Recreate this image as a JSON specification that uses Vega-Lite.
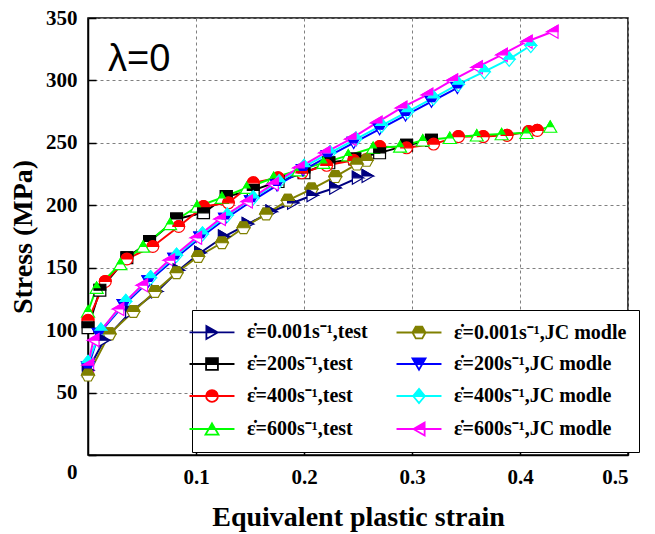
{
  "$schema": "https://vega.github.io/schema/vega-lite/v6.json",
  "width": 540,
  "height": 437,
  "autosize": {"type": "none"},
  "padding": {"left": 88, "top": 18, "right": 27, "bottom": 79},
  "background": "white",
  "config": {
    "view": {"stroke": "black", "strokeWidth": 1.5},
    "axis": {
      "labelFont": "Liberation Serif", "labelFontWeight": "bold", "labelFontSize": 21, "labelColor": "black",
      "titleFont": "Liberation Serif", "titleFontWeight": "bold", "titleFontSize": 28, "titleColor": "black",
      "domainColor": "black", "domainWidth": 1.5, "tickColor": "black", "tickWidth": 1.5, "tickSize": -8,
      "gridColor": "#808080", "gridDash": [3, 3], "gridWidth": 1
    }
  },
  "datasets": {
    "curves": [
      {"series": "test_0.001", "strain": 0, "stress": 68},
      {"series": "test_0.001", "strain": 0.015, "stress": 92},
      {"series": "test_0.001", "strain": 0.04, "stress": 115},
      {"series": "test_0.001", "strain": 0.064, "stress": 131},
      {"series": "test_0.001", "strain": 0.084, "stress": 148},
      {"series": "test_0.001", "strain": 0.104, "stress": 162},
      {"series": "test_0.001", "strain": 0.126, "stress": 175},
      {"series": "test_0.001", "strain": 0.148, "stress": 185},
      {"series": "test_0.001", "strain": 0.17, "stress": 195},
      {"series": "test_0.001", "strain": 0.19, "stress": 202},
      {"series": "test_0.001", "strain": 0.208, "stress": 208},
      {"series": "test_0.001", "strain": 0.229, "stress": 214},
      {"series": "test_0.001", "strain": 0.25, "stress": 222},
      {"series": "test_0.001", "strain": 0.259, "stress": 223.5},
      {"series": "test_200", "strain": 0, "stress": 102},
      {"series": "test_200", "strain": 0.011, "stress": 132},
      {"series": "test_200", "strain": 0.036, "stress": 158},
      {"series": "test_200", "strain": 0.057, "stress": 171},
      {"series": "test_200", "strain": 0.082, "stress": 189},
      {"series": "test_200", "strain": 0.107, "stress": 194},
      {"series": "test_200", "strain": 0.128, "stress": 207},
      {"series": "test_200", "strain": 0.153, "stress": 212},
      {"series": "test_200", "strain": 0.176, "stress": 219},
      {"series": "test_200", "strain": 0.2, "stress": 226},
      {"series": "test_200", "strain": 0.223, "stress": 234},
      {"series": "test_200", "strain": 0.247, "stress": 237},
      {"series": "test_200", "strain": 0.27, "stress": 242},
      {"series": "test_200", "strain": 0.295, "stress": 248},
      {"series": "test_200", "strain": 0.318, "stress": 252},
      {"series": "test_400", "strain": 0, "stress": 108},
      {"series": "test_400", "strain": 0.016, "stress": 139},
      {"series": "test_400", "strain": 0.036, "stress": 157},
      {"series": "test_400", "strain": 0.06, "stress": 167},
      {"series": "test_400", "strain": 0.084, "stress": 183},
      {"series": "test_400", "strain": 0.107, "stress": 199},
      {"series": "test_400", "strain": 0.13, "stress": 202},
      {"series": "test_400", "strain": 0.153, "stress": 218},
      {"series": "test_400", "strain": 0.176, "stress": 222},
      {"series": "test_400", "strain": 0.198, "stress": 226},
      {"series": "test_400", "strain": 0.221, "stress": 232},
      {"series": "test_400", "strain": 0.246, "stress": 236},
      {"series": "test_400", "strain": 0.27, "stress": 247},
      {"series": "test_400", "strain": 0.295, "stress": 246},
      {"series": "test_400", "strain": 0.32, "stress": 249},
      {"series": "test_400", "strain": 0.343, "stress": 255},
      {"series": "test_400", "strain": 0.366, "stress": 255},
      {"series": "test_400", "strain": 0.388, "stress": 256},
      {"series": "test_400", "strain": 0.408, "stress": 259},
      {"series": "test_400", "strain": 0.416, "stress": 260},
      {"series": "test_600", "strain": 0, "stress": 115},
      {"series": "test_600", "strain": 0.008, "stress": 134},
      {"series": "test_600", "strain": 0.03, "stress": 153},
      {"series": "test_600", "strain": 0.051, "stress": 167},
      {"series": "test_600", "strain": 0.076, "stress": 185},
      {"series": "test_600", "strain": 0.101, "stress": 199},
      {"series": "test_600", "strain": 0.124, "stress": 206},
      {"series": "test_600", "strain": 0.147, "stress": 214},
      {"series": "test_600", "strain": 0.172, "stress": 222},
      {"series": "test_600", "strain": 0.195, "stress": 228},
      {"series": "test_600", "strain": 0.218, "stress": 234},
      {"series": "test_600", "strain": 0.241, "stress": 240},
      {"series": "test_600", "strain": 0.264, "stress": 246},
      {"series": "test_600", "strain": 0.289, "stress": 247},
      {"series": "test_600", "strain": 0.31, "stress": 252},
      {"series": "test_600", "strain": 0.335, "stress": 254},
      {"series": "test_600", "strain": 0.36, "stress": 256},
      {"series": "test_600", "strain": 0.383, "stress": 257},
      {"series": "test_600", "strain": 0.406, "stress": 258},
      {"series": "test_600", "strain": 0.428, "stress": 263},
      {"series": "JC_0.001", "strain": 0, "stress": 64},
      {"series": "JC_0.001", "strain": 0.02, "stress": 97},
      {"series": "JC_0.001", "strain": 0.042, "stress": 115},
      {"series": "JC_0.001", "strain": 0.062, "stress": 131},
      {"series": "JC_0.001", "strain": 0.082, "stress": 146},
      {"series": "JC_0.001", "strain": 0.102, "stress": 159},
      {"series": "JC_0.001", "strain": 0.124, "stress": 170},
      {"series": "JC_0.001", "strain": 0.144, "stress": 182},
      {"series": "JC_0.001", "strain": 0.165, "stress": 193},
      {"series": "JC_0.001", "strain": 0.185, "stress": 204},
      {"series": "JC_0.001", "strain": 0.207, "stress": 213},
      {"series": "JC_0.001", "strain": 0.229, "stress": 223},
      {"series": "JC_0.001", "strain": 0.249, "stress": 233},
      {"series": "JC_0.001", "strain": 0.258, "stress": 236},
      {"series": "JC_200", "strain": 0, "stress": 70},
      {"series": "JC_200", "strain": 0.01, "stress": 97},
      {"series": "JC_200", "strain": 0.033, "stress": 120},
      {"series": "JC_200", "strain": 0.056, "stress": 139},
      {"series": "JC_200", "strain": 0.08, "stress": 157},
      {"series": "JC_200", "strain": 0.104, "stress": 174},
      {"series": "JC_200", "strain": 0.127, "stress": 189},
      {"series": "JC_200", "strain": 0.151, "stress": 203},
      {"series": "JC_200", "strain": 0.175, "stress": 216},
      {"series": "JC_200", "strain": 0.199, "stress": 228},
      {"series": "JC_200", "strain": 0.222, "stress": 239},
      {"series": "JC_200", "strain": 0.246, "stress": 250},
      {"series": "JC_200", "strain": 0.27, "stress": 261},
      {"series": "JC_200", "strain": 0.294, "stress": 272},
      {"series": "JC_200", "strain": 0.318, "stress": 283},
      {"series": "JC_200", "strain": 0.342, "stress": 294},
      {"series": "JC_400", "strain": 0, "stress": 74},
      {"series": "JC_400", "strain": 0.012, "stress": 100},
      {"series": "JC_400", "strain": 0.035, "stress": 123},
      {"series": "JC_400", "strain": 0.058, "stress": 142},
      {"series": "JC_400", "strain": 0.082, "stress": 160},
      {"series": "JC_400", "strain": 0.106, "stress": 177},
      {"series": "JC_400", "strain": 0.129, "stress": 192},
      {"series": "JC_400", "strain": 0.153, "stress": 206},
      {"series": "JC_400", "strain": 0.177, "stress": 219},
      {"series": "JC_400", "strain": 0.2, "stress": 231},
      {"series": "JC_400", "strain": 0.224, "stress": 242},
      {"series": "JC_400", "strain": 0.248, "stress": 253},
      {"series": "JC_400", "strain": 0.272, "stress": 264},
      {"series": "JC_400", "strain": 0.296, "stress": 275},
      {"series": "JC_400", "strain": 0.32, "stress": 286},
      {"series": "JC_400", "strain": 0.343, "stress": 297},
      {"series": "JC_400", "strain": 0.367, "stress": 307},
      {"series": "JC_400", "strain": 0.39, "stress": 317},
      {"series": "JC_400", "strain": 0.41, "stress": 328},
      {"series": "JC_600", "strain": 0, "stress": 72},
      {"series": "JC_600", "strain": 0.005, "stress": 92},
      {"series": "JC_600", "strain": 0.028, "stress": 117},
      {"series": "JC_600", "strain": 0.05, "stress": 136},
      {"series": "JC_600", "strain": 0.075, "stress": 156},
      {"series": "JC_600", "strain": 0.1, "stress": 174},
      {"series": "JC_600", "strain": 0.122, "stress": 189},
      {"series": "JC_600", "strain": 0.147, "stress": 203},
      {"series": "JC_600", "strain": 0.171, "stress": 217},
      {"series": "JC_600", "strain": 0.195, "stress": 230},
      {"series": "JC_600", "strain": 0.219, "stress": 242},
      {"series": "JC_600", "strain": 0.243, "stress": 253},
      {"series": "JC_600", "strain": 0.267, "stress": 266},
      {"series": "JC_600", "strain": 0.29, "stress": 278},
      {"series": "JC_600", "strain": 0.314, "stress": 288.5},
      {"series": "JC_600", "strain": 0.337, "stress": 300},
      {"series": "JC_600", "strain": 0.36, "stress": 310.5},
      {"series": "JC_600", "strain": 0.383, "stress": 320.5},
      {"series": "JC_600", "strain": 0.406, "stress": 331},
      {"series": "JC_600", "strain": 0.43, "stress": 339}
    ]
  },
  "layer": [
    {
      "data": {"name": "curves"},
      "transform": [{"filter": "datum.strain < 0"}],
      "mark": {"type": "point", "filled": true, "size": 140, "strokeWidth": 1.8, "opacity": 1},
      "encoding": {
        "x": {"field": "strain", "type": "quantitative", "scale": {"domain": [0, 0.5], "nice": false},
          "axis": {"title": "Equivalent plastic strain", "values": [0.1, 0.2, 0.3, 0.4, 0.5], "format": ".1f", "labelPadding": 19, "titlePadding": 16}},
        "y": {"field": "stress", "type": "quantitative", "scale": {"domain": [0, 350], "nice": false},
          "axis": {"title": "Stress (MPa)", "values": [0, 50, 100, 150, 200, 250, 300, 350], "labelPadding": 19, "titlePadding": 8,
            "labelOffset": {"condition": {"test": "datum.value === 0", "value": 17}, "value": 0}}},
        "color": {"field": "series", "type": "nominal",
          "scale": {"domain": ["test_0.001", "test_200", "test_400", "test_600", "JC_0.001", "JC_200", "JC_400", "JC_600"],
            "range": ["#000080", "#000000", "#FF0000", "#00FF00", "#808000", "#0000FF", "#00FFFF", "#FF00FF"]}},
        "stroke": {"field": "series", "type": "nominal",
          "scale": {"domain": ["test_0.001", "test_200", "test_400", "test_600", "JC_0.001", "JC_200", "JC_400", "JC_600"],
            "range": ["#000080", "#000000", "#FF0000", "#00FF00", "#808000", "#0000FF", "#00FFFF", "#FF00FF"]}},
        "shape": {"field": "series", "type": "nominal",
          "scale": {"domain": ["test_0.001", "test_200", "test_400", "test_600", "JC_0.001", "JC_200", "JC_400", "JC_600"],
            "range": [
              "M-3.8,0H3.8M-0.95,-1.1L0.95,0H-0.95ZM-0.95,0V1.1L0.95,0L-0.95,1.1Z",
              "M-3.8,0H3.8M-1,-1H1V0H-1ZM-1,0V1H1V0V1H-1Z",
              "M-3.8,0H3.8M-1,0A1,1 0 0,1 1,0ZM1,0A1,1 0 0,1 -1,0A1,1 0 0,0 1,0",
              "M-3.8,0H3.8M0,-0.95L0.55,0H-0.55ZM-0.55,0L-1.1,0.95H1.1L0.55,0L1.1,0.95H-1.1Z",
              "M-3.8,0H3.8M-1.1,0L-0.55,-1H0.55L1.1,0ZM-1.1,0L-0.55,1H0.55L1.1,0L0.55,1H-0.55Z",
              "M-3.8,0H3.8M-1.1,-0.95H1.1L0.55,0H-0.55ZM-0.55,0L0,0.95L0.55,0L0,0.95Z",
              "M-3.8,0H3.8M0,-1.2L1,0H-1ZM-1,0L0,1.2L1,0L0,1.2Z",
              "M-3.8,0H3.8M0.95,-1.1L-0.95,0H0.95ZM0.95,0V1.1L-0.95,0L0.95,1.1Z"
            ]},
          "legend": {
            "orient": "none", "legendX": 104, "legendY": 292, "columns": 2, "title": null,
            "labelExpr": "'\u03b5\u0307=' + split(datum.label, '_')[1] + 's\u207b\u00b9,' + (split(datum.label, '_')[0] === 'test' ? 'test' : 'JC modle')",
            "labelFont": "Liberation Serif", "labelFontWeight": "bold", "labelFontSize": 20, "labelColor": "black",
            "labelLimit": 300,
            "symbolSize": 140, "symbolStrokeWidth": 1.8, "symbolOpacity": 1, "symbolOffset": -2, "labelOffset": 25,
            "rowPadding": 11, "columnPadding": 24, "padding": 12,
            "strokeColor": "black", "fillColor": "white"
          }
        }
      }
    },
    {
      "data": {"name": "curves"},
      "mark": {"type": "line", "strokeWidth": 2},
      "encoding": {
        "x": {"field": "strain", "type": "quantitative"},
        "y": {"field": "stress", "type": "quantitative"},
        "stroke": {"field": "series", "type": "nominal"}
      }
    },
    {
      "data": {"name": "curves"},
      "mark": {"type": "point", "filled": true, "fill": "white", "size": 140, "strokeWidth": 1.2, "opacity": 1,
        "shape": {"expr": "['M0.95,0L-0.95,-1.1L-0.95,1.1Z','M-1.1,0L-0.55,-1H0.55L1.1,0L0.55,1H-0.55Z','M-1,-1H1V1H-1Z','M-1.1,-0.95H1.1L0,0.95Z','M-1,0A1,1 0 1,1 1,0A1,1 0 1,1 -1,0Z','M0,-1.2L1,0L0,1.2L-1,0Z','M0,-0.95L1.1,0.95H-1.1Z','M-0.95,0L0.95,-1.1V1.1Z'][indexof(['test_0.001','JC_0.001','test_200','JC_200','test_400','JC_400','test_600','JC_600'], datum.series)]"}},
      "encoding": {
        "x": {"field": "strain", "type": "quantitative"},
        "y": {"field": "stress", "type": "quantitative"},
        "stroke": {"field": "series", "type": "nominal"}
      }
    },
    {
      "data": {"name": "curves"},
      "mark": {"type": "point", "filled": true, "size": 140, "strokeWidth": 1.2, "opacity": 1,
        "shape": {"expr": "['M-0.95,-1.1L0.95,0H-0.95Z','M-1.1,0L-0.55,-1H0.55L1.1,0Z','M-1,-1H1V0H-1Z','M-1.1,-0.95H1.1L0.55,0H-0.55Z','M-1,0A1,1 0 0,1 1,0Z','M0,-1.2L1,0H-1Z','M0,-0.95L0.55,0H-0.55Z','M0.95,-1.1L-0.95,0H0.95Z'][indexof(['test_0.001','JC_0.001','test_200','JC_200','test_400','JC_400','test_600','JC_600'], datum.series)]"}},
      "encoding": {
        "x": {"field": "strain", "type": "quantitative"},
        "y": {"field": "stress", "type": "quantitative"},
        "color": {"field": "series", "type": "nominal"},
        "stroke": {"field": "series", "type": "nominal"}
      }
    },
    {
      "data": {"values": [{"label": "\u03bb=0"}]},
      "mark": {"type": "text", "align": "left", "baseline": "middle", "font": "Liberation Sans", "fontSize": 38, "color": "black"},
      "encoding": {
        "x": {"datum": 0.0185, "type": "quantitative"},
        "y": {"datum": 316, "type": "quantitative"},
        "text": {"field": "label"}
      }
    }
  ]
}
